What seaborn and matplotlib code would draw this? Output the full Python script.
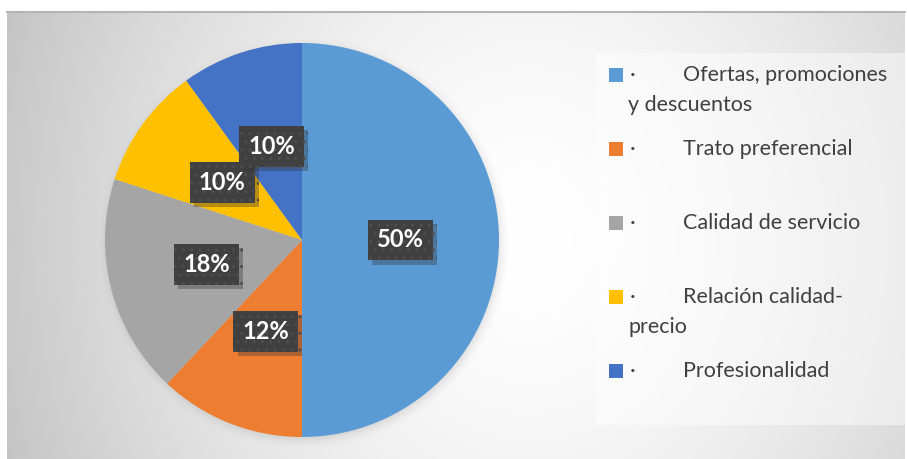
import textwrap
import numpy as np
import matplotlib
matplotlib.use("Agg")
import matplotlib.pyplot as plt
import matplotlib.patheffects as pe
from matplotlib.patches import Rectangle
import seaborn as sns

# Survey results: reasons for choosing the service (percent of answers)
categories = [
    "Ofertas, promociones y descuentos",
    "Trato preferencial",
    "Calidad de servicio",
    "Relación calidad-precio",
    "Profesionalidad",
]
shares = [50, 12, 18, 10, 10]
slice_colors = ["#5B9BD5", "#ED7D31", "#A5A5A5", "#FFC000", "#4472C4"]

sns.set_theme(style="white")
plt.rcParams["font.family"] = ["Lato", "DejaVu Sans"]
plt.rcParams["hatch.linewidth"] = 1.0

W, H = 907, 459
fig = plt.figure(figsize=(W / 100, H / 100), dpi=100)
fig.patch.set_facecolor("white")


def fx(x):
    return x / W


def fy(y):
    return 1 - y / H


# ---- chart area background: soft radial gradient with pie shadow ----
x0, x1, y0, y1 = 7, 905, 12, 459
ax_bg = fig.add_axes([fx(x0), fy(y1), fx(x1 - x0), (y1 - y0) / H])
xs = np.arange(x0, x1) + 0.5
ys = np.arange(y0, y1) + 0.5
XX, YY = np.meshgrid(xs, ys)
d = np.sqrt(((XX - 530) / 525) ** 2 + ((YY - 240) / 620) ** 2)
shade = 1 - 0.21 * np.clip(d, 0, 1.2) ** 1.6
# soft halo around the pie
r = np.sqrt((XX - 304) ** 2 + (YY - 243) ** 2)
halo = np.clip(1 - (r - 192) / 16, 0, 1) ** 2
shade = shade * (1 - 0.13 * halo)
ax_bg.imshow(np.dstack([shade] * 3), extent=(0, 1, 0, 1), aspect="auto",
             interpolation="bilinear", zorder=0)
ax_bg.plot([0, 1], [1, 1], color="#b4b4b4", lw=1.5, transform=ax_bg.transAxes,
           clip_on=False)
ax_bg.set_axis_off()

# ---- legend panel ----
fig.patches.append(Rectangle((fx(596), fy(425)), fx(905 - 596), (425 - 53) / H,
                             transform=fig.transFigure, facecolor="white",
                             alpha=0.45, edgecolor="none", zorder=1))

# ---- pie ----
cx, cy, R = 302, 240, 197
half = 200
ax = fig.add_axes([fx(cx - half), fy(cy + half), fx(2 * half), 2 * half / H])
ax.set_facecolor("none")
wedges, _, autotexts = ax.pie(
    shares, colors=sns.color_palette(slice_colors), startangle=90,
    counterclock=False, autopct="%d%%", pctdistance=0.5, radius=1,
    wedgeprops=dict(linewidth=0),
    textprops=dict(color="white", fontsize=17, fontweight="bold"),
)
lim = half / R
ax.set_xlim(-lim, lim)
ax.set_ylim(-lim, lim)
ax.set_aspect("equal")
ax.set_axis_off()

for t in autotexts:
    t.set_bbox(dict(boxstyle="square,pad=0.38", facecolor="#404040",
                    edgecolor="#4e4e4e", linewidth=0, hatch=".."))
    t.get_bbox_patch().set_path_effects(
        [pe.SimplePatchShadow(offset=(3, -3), shadow_rgbFace="#333333", alpha=0.35),
         pe.Normal()])

# ---- legend entries ----
text_color = "#404040"
first_y, step, line_gap = 75, 74, 30
for i, (label, col) in enumerate(zip(categories, slice_colors)):
    y = first_y + i * step
    fig.patches.append(Rectangle((fx(609), fy(y + 7)), fx(14), 14 / H,
                                 transform=fig.transFigure, facecolor=col,
                                 edgecolor="none", zorder=3))
    fig.text(fx(630), fy(y), "·", fontsize=15.5, color=text_color,
             va="center", ha="left", zorder=3)
    lines = textwrap.wrap(label, width=20)
    fig.text(fx(683), fy(y), lines[0], fontsize=15.5, color=text_color,
             va="center", ha="left", zorder=3)
    for k, extra in enumerate(lines[1:], start=1):
        fig.text(fx(628), fy(y + k * line_gap), extra, fontsize=15.5,
                 color=text_color, va="center", ha="left", zorder=3)

fig.savefig("out.png", dpi=100, facecolor=fig.get_facecolor())
